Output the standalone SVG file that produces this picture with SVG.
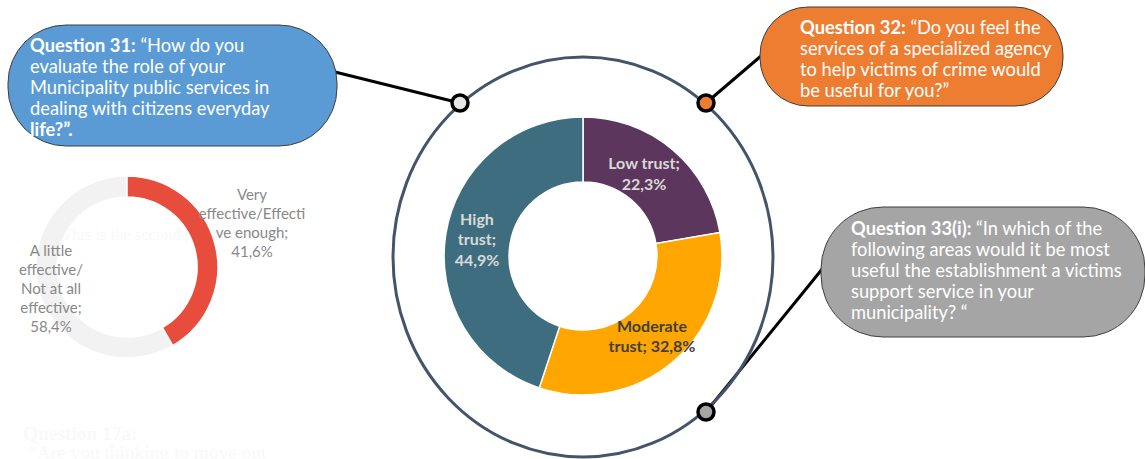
<svg xmlns="http://www.w3.org/2000/svg" width="1145" height="459" viewBox="0 0 1145 459">
<style>
.bt{font-family:Lato,"Open Sans","Liberation Sans",sans-serif;font-size:18.3px;fill:#FFFFFF}
.b{font-weight:bold}
.lbl{font-family:Lato,"Open Sans","Liberation Sans",sans-serif;text-anchor:middle}
.ghost{font-family:"Liberation Serif","DejaVu Serif",serif;fill:#F9F9F9}
.conn{stroke:#000000;stroke-width:3;fill:none}
.node{stroke:#000000;stroke-width:3.5}
.bub{stroke:#3F3F3F;stroke-width:1}
</style>
<rect width="1145" height="459" fill="#FFFFFF"/>
<text class="ghost" x="23" y="440" font-size="19.4" font-weight="bold">Question 17a:</text>
<text class="ghost" x="28" y="459" font-size="19.4">“Are you thinking to move out</text>
<g id="small-donut">
<text class="ghost" x="62" y="240" font-size="16.5">This is the second pie from the</text>
<path d="M172.8,345.6 A91,91 0 1 1 127,176 L127,197 A70,70 0 1 0 162.3,327.5 Z" fill="#F2F2F2" stroke="#FFFFFF" stroke-width="1.5"/>
<path d="M127,176 A91,91 0 0 1 172.8,345.6 L162.3,327.5 A70,70 0 0 0 127,197 Z" fill="#E74C3C" stroke="#FFFFFF" stroke-width="1.5"/>
<g class="lbl" fill="#888888" font-size="15">
<text x="252" y="200">Very</text>
<text x="252" y="219">effective/Effecti</text>
<text x="252" y="238">ve enough;</text>
<text x="252" y="257">41,6%</text>
<text x="51" y="256">A little</text>
<text x="51" y="275">effective/</text>
<text x="51" y="294">Not at all</text>
<text x="51" y="313">effective;</text>
<text x="51" y="332">58,4%</text>
</g>
</g>
<g id="connectors">
<line class="conn" x1="335" y1="72" x2="460" y2="103"/>
<line class="conn" x1="761" y1="56" x2="706" y2="103"/>
<line class="conn" x1="823" y1="268" x2="706" y2="412"/>
</g>
<g id="outer-ring">
<ellipse cx="583" cy="257" rx="190" ry="200" fill="none" stroke="#44546A" stroke-width="3"/>
</g>
<g id="trust-donut">
<path d="M583,117 A139,139 0 0 1 720.0,232.5 L655.9,243.5 A74,74 0 0 0 583,182 Z" fill="#5C365C" stroke="#FFFFFF" stroke-width="1.5"/>
<path d="M720.0,232.5 A139,139 0 0 1 539.2,387.9 L559.7,326.2 A74,74 0 0 0 655.9,243.5 Z" fill="#FFA600" stroke="#FFFFFF" stroke-width="1.5"/>
<path d="M539.2,387.9 A139,139 0 0 1 583,117 L583,182 A74,74 0 0 0 559.7,326.2 Z" fill="#3D6D7F" stroke="#FFFFFF" stroke-width="1.5"/>
<g class="lbl b" fill="#D9D9D9" font-size="16">
<text x="644" y="169">Low trust;</text>
<text x="644" y="190">22,3%</text>
<text x="477" y="225">High</text>
<text x="477" y="245">trust;</text>
<text x="477" y="266">44,9%</text>
</g>
<g class="lbl b" fill="#404040" font-size="16">
<text x="652" y="332">Moderate</text>
<text x="652" y="352">trust; 32,8%</text>
</g>
</g>
<g id="node-q31">
<circle class="node" cx="460" cy="103" r="8" fill="#E6E6E6"/>
</g>
<g id="node-q32">
<circle class="node" cx="706" cy="103" r="8" fill="#ED7D31"/>
</g>
<g id="node-q33">
<circle class="node" cx="706" cy="412" r="8" fill="#A5A5A5"/>
</g>
<g id="bubble-q31">
<rect class="bub" x="8" y="25" width="329" height="121" rx="58" ry="58" fill="#5B9BD5"/>
<text class="bt" x="30" y="52"><tspan class="b">Question 31:</tspan> “How do you</text>
<text class="bt" x="30" y="73">evaluate the role of your</text>
<text class="bt" x="30" y="94">Municipality public services in</text>
<text class="bt" x="30" y="115">dealing with citizens everyday</text>
<text class="bt b" x="30" y="136">life?”.</text>
</g>
<g id="bubble-q32">
<rect class="bub" x="760" y="7" width="303" height="99" rx="48" ry="48" fill="#ED7D31"/>
<text class="bt" x="800" y="34"><tspan class="b">Question 32:</tspan> “Do you feel the</text>
<text class="bt" x="800" y="55">services of a specialized agency</text>
<text class="bt" x="800" y="76">to help victims of crime would</text>
<text class="bt" x="800" y="97">be useful for you?”</text>
</g>
<g id="bubble-q33">
<rect class="bub" x="821" y="207" width="324" height="130" rx="62" ry="62" fill="#A5A5A5"/>
<text class="bt" x="851" y="235"><tspan class="b">Question 33(i):</tspan> “In which of the</text>
<text class="bt" x="851" y="256">following areas would it be most</text>
<text class="bt" x="851" y="277">useful the establishment a victims</text>
<text class="bt" x="851" y="298">support service in your</text>
<text class="bt" x="851" y="319">municipality? “</text>
</g>
</svg>
